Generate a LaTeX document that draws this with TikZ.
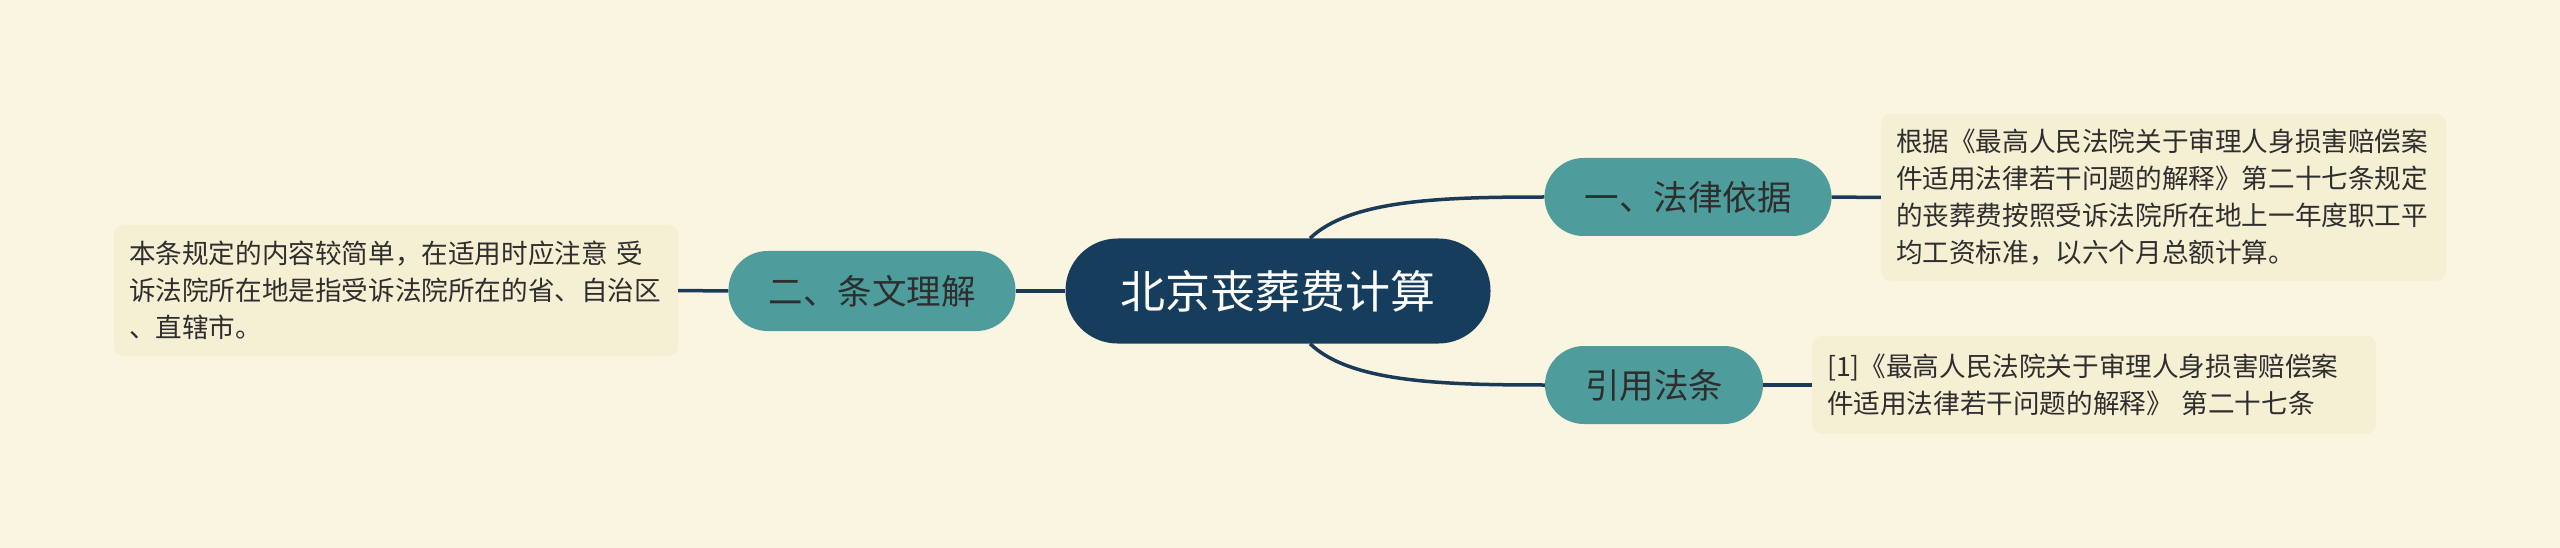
\documentclass[tikz,border=0pt]{standalone}
\usepackage{fontspec}
\setmainfont{Noto Sans CJK SC}
\usetikzlibrary{calc}
\definecolor{bgc}{HTML}{FAF5E0}
\definecolor{rootc}{HTML}{173D5C}
\definecolor{tealc}{HTML}{4E9C9C}
\definecolor{linec}{HTML}{1B3A5A}
\definecolor{boxc}{HTML}{F5EFD3}
\definecolor{txtc}{HTML}{2E2E2E}
\tikzset{
  rootnode/.style={fill=rootc, text=white, minimum width=425pt, minimum height=105pt, rounded corners=52pt, inner sep=0pt, font=\fontsize{45}{50}\selectfont},
  branchnode/.style={fill=tealc, text=txtc, minimum height=78pt, rounded corners=39pt, inner sep=0pt, font=\fontsize{34.5}{40}\selectfont},
  notebox/.style={fill=boxc, text=txtc, rounded corners=10pt, align=left, inner xsep=15pt, inner ysep=0pt, font=\fontsize{26.6}{37}\selectfont},
  conn/.style={draw=linec, line width=3.5pt}
}
\begin{document}
\begin{tikzpicture}[x=1pt,y=-1pt]
\fill[bgc] (0,0) rectangle (2560,548);
\useasboundingbox (0,0) rectangle (2560,548);

\node[rootnode] (root) at (1278,291) {北京丧葬费计算};
\node[branchnode, minimum width=287pt] (b1) at (1688,197) {一、法律依据};
\node[branchnode, minimum width=218pt] (b2) at (1654,385) {引用法条};
\node[branchnode, minimum width=287pt, minimum height=80pt] (b3) at (872,291) {二、条文理解};

\node[notebox, text width=535pt, minimum height=167pt] (t1) at (2163.5,197.5) {根据《最高人民法院关于审理人身损害赔偿案\\件适用法律若干问题的解释》第二十七条规定\\的丧葬费按照受诉法院所在地上一年度职工平\\均工资标准，以六个月总额计算。};
\node[notebox, text width=534pt, minimum height=98pt] (t2) at (2094,385) {[1]《最高人民法院关于审理人身损害赔偿案\\件适用法律若干问题的解释》 第二十七条};
\node[notebox, text width=534pt, minimum height=131pt] (t3) at (396,290.5) {本条规定的内容较简单，在适用时应注意 受\\诉法院所在地是指受诉法院所在的省、自治区\\、直辖市。};

\coordinate (r1) at ([xshift=32pt]root.north);
\coordinate (r2) at ([xshift=32pt]root.south);
\draw[conn] (r1) .. controls (1350,200) and (1440,197) .. (b1.west);
\draw[conn] (r2) .. controls (1350,382) and (1440,385) .. (b2.west);
\draw[conn] (b1.east) -- (t1.west);
\draw[conn] (b2.east) -- (t2.west);
\draw[conn] (root.west) -- (b3.east);
\draw[conn] (b3.west) -- (t3.east);
\end{tikzpicture}
\end{document}
